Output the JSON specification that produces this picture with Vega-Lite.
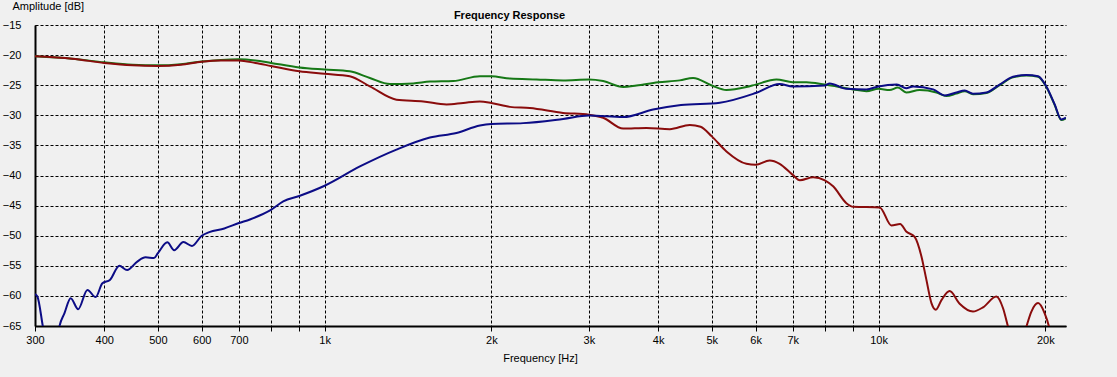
{
  "$schema": "https://vega.github.io/schema/vega-lite/v6.json",
  "width": 1031,
  "height": 301,
  "autosize": {"type": "none"},
  "padding": {"left": 35, "top": 25, "right": 51, "bottom": 51},
  "background": "#f0f0f0",
  "title": {"text": "Frequency Response", "font": "Liberation Sans", "fontSize": 11, "fontWeight": "bold", "color": "#000000", "anchor": "middle", "frame": "group", "dx": -41, "dy": 32, "offset": 0, "baseline": "bottom"},
  "config": {"view": {"stroke": null}},
  "data": {"values": [
    {"f": 300, "db": -20.2, "s": "s1"}, {"f": 350, "db": -20.6, "s": "s1"}, {"f": 400, "db": -21.2, "s": "s1"}, {"f": 450, "db": -21.6, "s": "s1"}, {"f": 500, "db": -21.7, "s": "s1"}, {"f": 550, "db": -21.5, "s": "s1"}, {"f": 600, "db": -21.05, "s": "s1"}, {"f": 650, "db": -20.8, "s": "s1"}, {"f": 700, "db": -20.7, "s": "s1"}, {"f": 750, "db": -20.9, "s": "s1"}, {"f": 800, "db": -21.3, "s": "s1"}, {"f": 900, "db": -22.05, "s": "s1"}, {"f": 1000, "db": -22.4, "s": "s1"}, {"f": 1110, "db": -22.7, "s": "s1"}, {"f": 1207, "db": -23.8, "s": "s1"}, {"f": 1312, "db": -24.8, "s": "s1"}, {"f": 1445, "db": -24.7, "s": "s1"}, {"f": 1549, "db": -24.4, "s": "s1"}, {"f": 1707, "db": -24.3, "s": "s1"}, {"f": 1907, "db": -23.5, "s": "s1"}, {"f": 2000, "db": -23.5, "s": "s1"}, {"f": 2160, "db": -23.9, "s": "s1"}, {"f": 2413, "db": -24.05, "s": "s1"}, {"f": 2695, "db": -24.2, "s": "s1"}, {"f": 3000, "db": -24.05, "s": "s1"}, {"f": 3183, "db": -24.3, "s": "s1"}, {"f": 3459, "db": -25.3, "s": "s1"}, {"f": 3657, "db": -25.05, "s": "s1"}, {"f": 4000, "db": -24.5, "s": "s1"}, {"f": 4377, "db": -24.2, "s": "s1"}, {"f": 4626, "db": -23.8, "s": "s1"}, {"f": 5000, "db": -25.05, "s": "s1"}, {"f": 5314, "db": -25.8, "s": "s1"}, {"f": 5775, "db": -25.3, "s": "s1"}, {"f": 6000, "db": -24.9, "s": "s1"}, {"f": 6541, "db": -24.05, "s": "s1"}, {"f": 7000, "db": -24.5, "s": "s1"}, {"f": 7411, "db": -24.5, "s": "s1"}, {"f": 8000, "db": -24.9, "s": "s1"}, {"f": 9000, "db": -25.7, "s": "s1"}, {"f": 9510, "db": -26.0, "s": "s1"}, {"f": 10000, "db": -25.6, "s": "s1"}, {"f": 10470, "db": -25.8, "s": "s1"}, {"f": 10840, "db": -25.4, "s": "s1"}, {"f": 11220, "db": -26.2, "s": "s1"}, {"f": 11865, "db": -25.8, "s": "s1"}, {"f": 12720, "db": -26.2, "s": "s1"}, {"f": 13260, "db": -26.8, "s": "s1"}, {"f": 13820, "db": -26.4, "s": "s1"}, {"f": 14310, "db": -26.0, "s": "s1"}, {"f": 14810, "db": -26.5, "s": "s1"}, {"f": 15660, "db": -26.3, "s": "s1"}, {"f": 16540, "db": -25.0, "s": "s1"}, {"f": 17490, "db": -23.7, "s": "s1"}, {"f": 18490, "db": -23.4, "s": "s1"}, {"f": 19410, "db": -23.6, "s": "s1"}, {"f": 20090, "db": -25.3, "s": "s1"}, {"f": 20800, "db": -28.3, "s": "s1"}, {"f": 21380, "db": -30.8, "s": "s1"}, {"f": 21800, "db": -30.5, "s": "s1"},

    {"f": 300, "db": -20.2, "s": "s2"}, {"f": 350, "db": -20.6, "s": "s2"}, {"f": 400, "db": -21.3, "s": "s2"}, {"f": 450, "db": -21.7, "s": "s2"}, {"f": 500, "db": -21.8, "s": "s2"}, {"f": 550, "db": -21.6, "s": "s2"}, {"f": 600, "db": -21.1, "s": "s2"}, {"f": 650, "db": -20.9, "s": "s2"}, {"f": 700, "db": -20.9, "s": "s2"}, {"f": 750, "db": -21.3, "s": "s2"}, {"f": 800, "db": -21.8, "s": "s2"}, {"f": 900, "db": -22.7, "s": "s2"}, {"f": 1000, "db": -23.1, "s": "s2"}, {"f": 1110, "db": -23.5, "s": "s2"}, {"f": 1207, "db": -25.2, "s": "s2"}, {"f": 1348, "db": -27.4, "s": "s2"}, {"f": 1507, "db": -27.7, "s": "s2"}, {"f": 1660, "db": -28.2, "s": "s2"}, {"f": 1779, "db": -27.95, "s": "s2"}, {"f": 1907, "db": -27.7, "s": "s2"}, {"f": 2000, "db": -27.95, "s": "s2"}, {"f": 2160, "db": -28.6, "s": "s2"}, {"f": 2347, "db": -28.8, "s": "s2"}, {"f": 2695, "db": -29.6, "s": "s2"}, {"f": 3000, "db": -29.9, "s": "s2"}, {"f": 3183, "db": -30.4, "s": "s2"}, {"f": 3459, "db": -32.2, "s": "s2"}, {"f": 3811, "db": -32.1, "s": "s2"}, {"f": 4199, "db": -32.3, "s": "s2"}, {"f": 4563, "db": -31.6, "s": "s2"}, {"f": 4773, "db": -31.9, "s": "s2"}, {"f": 5000, "db": -33.5, "s": "s2"}, {"f": 5314, "db": -36.0, "s": "s2"}, {"f": 5775, "db": -38.05, "s": "s2"}, {"f": 6000, "db": -38.2, "s": "s2"}, {"f": 6361, "db": -37.5, "s": "s2"}, {"f": 6630, "db": -38.05, "s": "s2"}, {"f": 7000, "db": -39.9, "s": "s2"}, {"f": 7210, "db": -40.8, "s": "s2"}, {"f": 7620, "db": -40.3, "s": "s2"}, {"f": 8000, "db": -40.8, "s": "s2"}, {"f": 8280, "db": -41.8, "s": "s2"}, {"f": 8750, "db": -44.6, "s": "s2"}, {"f": 9000, "db": -45.2, "s": "s2"}, {"f": 10050, "db": -45.3, "s": "s2"}, {"f": 10550, "db": -48.3, "s": "s2"}, {"f": 10940, "db": -48.05, "s": "s2"}, {"f": 11220, "db": -49.3, "s": "s2"}, {"f": 11620, "db": -50.2, "s": "s2"}, {"f": 11950, "db": -53.4, "s": "s2"}, {"f": 12200, "db": -57.3, "s": "s2"}, {"f": 12460, "db": -61.2, "s": "s2"}, {"f": 12690, "db": -62.3, "s": "s2"}, {"f": 12990, "db": -60.7, "s": "s2"}, {"f": 13440, "db": -59.2, "s": "s2"}, {"f": 14010, "db": -61.3, "s": "s2"}, {"f": 14810, "db": -62.6, "s": "s2"}, {"f": 15440, "db": -61.9, "s": "s2"}, {"f": 16320, "db": -60.1, "s": "s2"}, {"f": 16780, "db": -62.05, "s": "s2"}, {"f": 17130, "db": -65.1, "s": "s2"}, {"f": 17500, "db": -68, "s": "s2"}, {"f": 18100, "db": -68, "s": "s2"}, {"f": 18490, "db": -65.1, "s": "s2"}, {"f": 18880, "db": -62.6, "s": "s2"}, {"f": 19410, "db": -61.2, "s": "s2"}, {"f": 19950, "db": -62.9, "s": "s2"}, {"f": 20310, "db": -65.1, "s": "s2"}, {"f": 20700, "db": -69, "s": "s2"},

    {"f": 300, "db": -59.7, "s": "s3"}, {"f": 303, "db": -60.1, "s": "s3"}, {"f": 310, "db": -65.1, "s": "s3"}, {"f": 314, "db": -68, "s": "s3"}, {"f": 328, "db": -68, "s": "s3"}, {"f": 332, "db": -65.1, "s": "s3"}, {"f": 339, "db": -62.9, "s": "s3"}, {"f": 348, "db": -60.4, "s": "s3"}, {"f": 359, "db": -62.2, "s": "s3"}, {"f": 373, "db": -59.0, "s": "s3"}, {"f": 386, "db": -60.2, "s": "s3"}, {"f": 397, "db": -57.9, "s": "s3"}, {"f": 410, "db": -57.3, "s": "s3"}, {"f": 426, "db": -55.0, "s": "s3"}, {"f": 440, "db": -55.7, "s": "s3"}, {"f": 459, "db": -54.3, "s": "s3"}, {"f": 475, "db": -53.6, "s": "s3"}, {"f": 492, "db": -53.7, "s": "s3"}, {"f": 500, "db": -52.9, "s": "s3"}, {"f": 520, "db": -51.1, "s": "s3"}, {"f": 535, "db": -52.4, "s": "s3"}, {"f": 556, "db": -51.05, "s": "s3"}, {"f": 576, "db": -51.7, "s": "s3"}, {"f": 600, "db": -50.0, "s": "s3"}, {"f": 619, "db": -49.4, "s": "s3"}, {"f": 659, "db": -48.8, "s": "s3"}, {"f": 700, "db": -47.9, "s": "s3"}, {"f": 733, "db": -47.3, "s": "s3"}, {"f": 797, "db": -45.8, "s": "s3"}, {"f": 842, "db": -44.3, "s": "s3"}, {"f": 900, "db": -43.4, "s": "s3"}, {"f": 1000, "db": -41.7, "s": "s3"}, {"f": 1158, "db": -38.5, "s": "s3"}, {"f": 1348, "db": -35.7, "s": "s3"}, {"f": 1549, "db": -33.7, "s": "s3"}, {"f": 1730, "db": -32.95, "s": "s3"}, {"f": 1907, "db": -31.7, "s": "s3"}, {"f": 2000, "db": -31.45, "s": "s3"}, {"f": 2283, "db": -31.3, "s": "s3"}, {"f": 2695, "db": -30.6, "s": "s3"}, {"f": 3000, "db": -30.05, "s": "s3"}, {"f": 3459, "db": -30.3, "s": "s3"}, {"f": 3917, "db": -29.05, "s": "s3"}, {"f": 4400, "db": -28.3, "s": "s3"}, {"f": 5170, "db": -27.9, "s": "s3"}, {"f": 6000, "db": -26.3, "s": "s3"}, {"f": 6630, "db": -24.8, "s": "s3"}, {"f": 7000, "db": -25.2, "s": "s3"}, {"f": 8000, "db": -25.05, "s": "s3"}, {"f": 8160, "db": -24.7, "s": "s3"}, {"f": 8750, "db": -25.6, "s": "s3"}, {"f": 9510, "db": -25.7, "s": "s3"}, {"f": 10000, "db": -25.2, "s": "s3"}, {"f": 10790, "db": -24.9, "s": "s3"}, {"f": 11220, "db": -25.5, "s": "s3"}, {"f": 11550, "db": -25.2, "s": "s3"}, {"f": 12550, "db": -25.7, "s": "s3"}, {"f": 13170, "db": -26.7, "s": "s3"}, {"f": 13820, "db": -26.2, "s": "s3"}, {"f": 14310, "db": -25.9, "s": "s3"}, {"f": 14810, "db": -26.4, "s": "s3"}, {"f": 15660, "db": -26.2, "s": "s3"}, {"f": 16540, "db": -24.9, "s": "s3"}, {"f": 17490, "db": -23.6, "s": "s3"}, {"f": 18490, "db": -23.3, "s": "s3"}, {"f": 19410, "db": -23.5, "s": "s3"}, {"f": 20090, "db": -25.2, "s": "s3"}, {"f": 20800, "db": -28.2, "s": "s3"}, {"f": 21380, "db": -30.7, "s": "s3"}, {"f": 21800, "db": -30.4, "s": "s3"}
  ]},
  "mark": {"type": "line", "clip": true, "strokeWidth": 2, "interpolate": "monotone"},
  "encoding": {
    "x": {
      "field": "f", "type": "quantitative",
      "scale": {"type": "log", "domain": [300, 21800], "nice": false},
      "axis": {
        "values": [300, 400, 500, 600, 700, 800, 900, 1000, 2000, 3000, 4000, 5000, 6000, 7000, 8000, 9000, 10000, 20000],
        "labelExpr": "(datum.value == 800 || datum.value == 900 || datum.value == 8000 || datum.value == 9000) ? '' : (datum.value >= 1000 ? (datum.value / 1000) + 'k' : datum.value + '')",
        "grid": true, "gridColor": "#000000", "gridDash": [3, 2], "gridWidth": 1, "gridOpacity": 1,
        "domain": true, "domainColor": "#000000", "domainWidth": 2,
        "ticks": true, "tickColor": "#000000", "tickSize": 5, "tickWidth": 1,
        "labelFont": "Liberation Sans", "labelFontSize": 11, "labelColor": "#000000", "labelPadding": 3, "labelFlush": false, "labelOverlap": false,
        "title": "Frequency [Hz]", "titleFont": "Liberation Sans", "titleFontSize": 11, "titleFontWeight": "normal", "titleColor": "#000000",
        "titleX": 505, "titleY": 32, "titleBaseline": "middle", "titleAlign": "center"
      }
    },
    "y": {
      "field": "db", "type": "quantitative",
      "scale": {"domain": [-65, -15], "nice": false, "zero": false},
      "axis": {
        "values": [-15, -20, -25, -30, -35, -40, -45, -50, -55, -60, -65],
        "grid": true, "gridColor": "#000000", "gridDash": [3, 2], "gridWidth": 1, "gridOpacity": 1,
        "domain": true, "domainColor": "#000000", "domainWidth": 2,
        "ticks": false,
        "labelFont": "Liberation Sans", "labelFontSize": 11, "labelColor": "#000000", "labelPadding": 14, "labelFlush": false, "labelOverlap": false,
        "title": "Amplitude [dB]", "titleFont": "Liberation Sans", "titleFontSize": 11, "titleFontWeight": "normal", "titleColor": "#000000",
        "titleAngle": 0, "titleX": -23, "titleY": -19, "titleAlign": "left", "titleBaseline": "middle"
      }
    },
    "color": {"field": "s", "type": "nominal", "scale": {"domain": ["s1", "s2", "s3"], "range": ["#167816", "#8a0c0c", "#0c0c86"]}, "legend": null}
  }
}
